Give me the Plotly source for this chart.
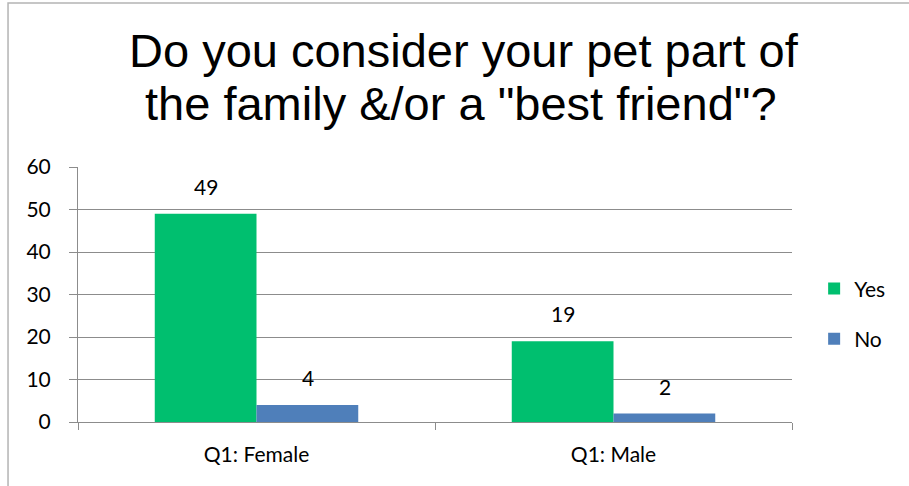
import plotly.graph_objects as go

categories = ["Q1: Female", "Q1: Male"]
yes_values = [49, 19]
no_values = [4, 2]
series_names = ["Yes", "No"]
y_ticks = [0, 10, 20, 30, 40, 50, 60]

GREEN = "#00BF6F"
BLUE = "#4F7FBA"
GRID = "#8C8C8C"
LABEL_FONT = "Lato, Calibri, sans-serif"
LABEL_SIZE = 21

fig = go.Figure()
for name, vals, color, grp in [(series_names[0], yes_values, GREEN, "g1"),
                               (series_names[1], no_values, BLUE, "g2")]:
    fig.add_trace(go.Bar(
        name=name, x=categories, y=vals, marker=dict(color=color, line=dict(width=0)),
        legendgroup=grp, offsetgroup=grp,
    ))

# value labels above each bar
annotations = []
for i, cat in enumerate(categories):
    for vals, shift in [(yes_values, -51), (no_values, 51)]:
        annotations.append(dict(
            x=cat, y=vals[i], xref="x", yref="y", text=str(vals[i]),
            showarrow=False, xshift=shift, yshift=13, yanchor="bottom",
            font=dict(family=LABEL_FONT, size=LABEL_SIZE, color="#000000"),
        ))

# two-line chart title
annotations.append(dict(
    x=0.541, y=1.455, xref="paper", yref="paper", xanchor="center", yanchor="middle",
    text="Do you consider your pet part of", showarrow=False,
    font=dict(family="Liberation Sans, Arial, sans-serif", size=47, color="#000000"),
))
annotations.append(dict(
    x=0.537, y=1.25, xref="paper", yref="paper", xanchor="center", yanchor="middle",
    text='the family &/or a "best friend"?', showarrow=False,
    font=dict(family="Liberation Sans, Arial, sans-serif", size=47, color="#000000"),
))

fig.update_layout(
    width=909, height=486,
    margin=dict(l=78, r=117, t=167, b=64, autoexpand=False),
    paper_bgcolor="white", plot_bgcolor="white",
    barmode="group", bargap=0.43, bargroupgap=0,
    showlegend=True,
    legend=dict(
        x=1.031, y=0.424, xanchor="left", yanchor="middle",
        font=dict(family=LABEL_FONT, size=LABEL_SIZE, color="#000000"),
        traceorder="grouped", tracegroupgap=20, itemwidth=30,
        bgcolor="rgba(0,0,0,0)",
    ),
    annotations=annotations,
    shapes=[dict(
        type="rect", xref="paper", yref="paper",
        x0=-0.098, x1=1.5, y0=-0.5, y1=1.643,
        line=dict(color="#B4B4B4", width=1.5), fillcolor="rgba(0,0,0,0)", layer="below",
    )],
)

fig.update_yaxes(
    range=[0, 60], tickvals=y_ticks, showgrid=True, gridcolor=GRID, gridwidth=1,
    showline=True, linecolor=GRID, linewidth=1,
    ticks="outside", ticklen=8, tickcolor=GRID, ticklabelstandoff=14,
    tickfont=dict(family=LABEL_FONT, size=LABEL_SIZE, color="#000000"), zeroline=False,
)
fig.update_xaxes(
    showline=True, linecolor=GRID, linewidth=1, showgrid=False,
    ticks="outside", ticklen=7, tickcolor=GRID, tickson="boundaries",
    ticklabelstandoff=14,
    tickfont=dict(family=LABEL_FONT, size=LABEL_SIZE, color="#000000"),
)

fig.write_html("out.html")
